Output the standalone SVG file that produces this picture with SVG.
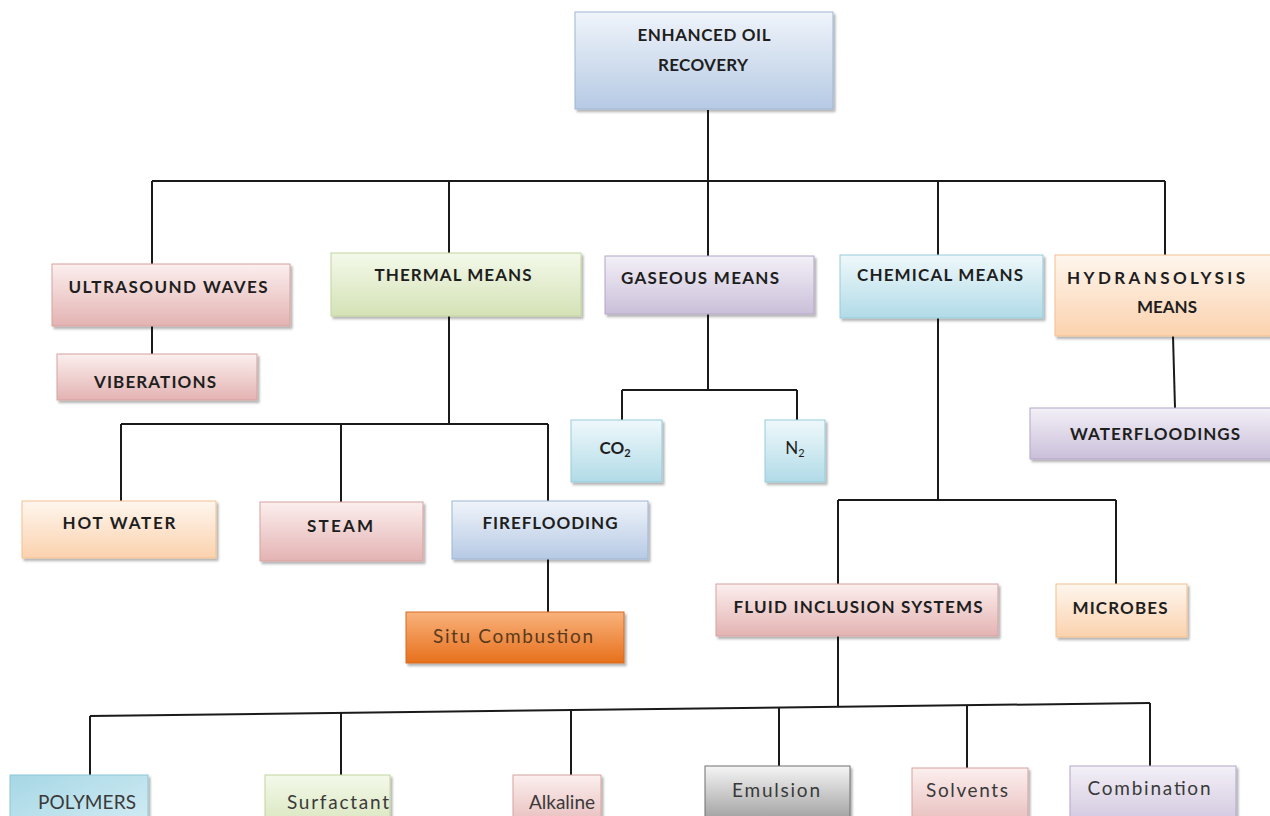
<svg xmlns="http://www.w3.org/2000/svg" width="1270" height="816" viewBox="0 0 1270 816">
<defs>
<linearGradient id="gBlue" x1="0" y1="0" x2="0" y2="1"><stop offset="0" stop-color="#f0f4fa"/><stop offset="1" stop-color="#b6cae4"/></linearGradient>
<linearGradient id="gPink" x1="0" y1="0" x2="0" y2="1"><stop offset="0" stop-color="#fbefee"/><stop offset="1" stop-color="#e3b3b2"/></linearGradient>
<linearGradient id="gGreen" x1="0" y1="0" x2="0" y2="1"><stop offset="0" stop-color="#f4f9ea"/><stop offset="1" stop-color="#d4e2b6"/></linearGradient>
<linearGradient id="gPurple" x1="0" y1="0" x2="0" y2="1"><stop offset="0" stop-color="#f3f0f7"/><stop offset="1" stop-color="#cabfd9"/></linearGradient>
<linearGradient id="gAqua" x1="0" y1="0" x2="0" y2="1"><stop offset="0" stop-color="#eff8fb"/><stop offset="1" stop-color="#b1dbe7"/></linearGradient>
<linearGradient id="gOrange" x1="0" y1="0" x2="0" y2="1"><stop offset="0" stop-color="#fef6ee"/><stop offset="1" stop-color="#fbd2ae"/></linearGradient>
<linearGradient id="gSitu" x1="0" y1="0" x2="0" y2="1"><stop offset="0" stop-color="#f9b27c"/><stop offset="1" stop-color="#e7701c"/></linearGradient>
<linearGradient id="gGrey" x1="0" y1="0" x2="0" y2="1"><stop offset="0" stop-color="#f5f5f5"/><stop offset="1" stop-color="#878787"/></linearGradient>
<linearGradient id="gPoly" x1="0" y1="0" x2="1" y2="1"><stop offset="0" stop-color="#a6d7e5"/><stop offset="1" stop-color="#d6eef5"/></linearGradient>
<filter id="sh" x="-5%" y="-10%" width="115%" height="130%"><feDropShadow dx="2" dy="2.5" stdDeviation="1.3" flood-color="#000" flood-opacity="0.3"/></filter>
</defs>
<style>
rect{filter:url(#sh);stroke-width:1}
.blue{fill:url(#gBlue);stroke:#9db5d6}
.pink{fill:url(#gPink);stroke:#d6a1a0}
.green{fill:url(#gGreen);stroke:#c2d49e}
.purple{fill:url(#gPurple);stroke:#b3a6c8}
.aqua{fill:url(#gAqua);stroke:#95cbd9}
.orange{fill:url(#gOrange);stroke:#f3c091}
.situ{fill:url(#gSitu);stroke:#d46a22}
.grey{fill:url(#gGrey);stroke:#6f6f6f}
.poly{fill:url(#gPoly);stroke:#8cc6d6}
text{font-family:Lato,"Liberation Sans",sans-serif;text-anchor:middle}
.c{font-size:17px;font-weight:700;fill:#1e1e1e}
.m{font-size:19px;font-weight:400;fill:#3a3a3a}
.s{fill:#5a3a1c}
#connectors{stroke:#1a1a1a;stroke-width:2;fill:none}
</style>
<rect width="1270" height="816" fill="#ffffff" style="filter:none"/>
<g id="connectors">
<line x1="708" y1="110" x2="708" y2="181"/>
<line x1="152" y1="181" x2="1165" y2="181"/>
<line x1="152" y1="181" x2="152" y2="264"/>
<line x1="449" y1="181" x2="449" y2="253"/>
<line x1="708" y1="181" x2="708" y2="256"/>
<line x1="938" y1="181" x2="938" y2="255"/>
<line x1="1165" y1="181" x2="1165" y2="255"/>
<line x1="152" y1="326" x2="152" y2="354"/>
<line x1="449" y1="316" x2="449" y2="424"/>
<line x1="121" y1="424" x2="548" y2="424"/>
<line x1="121" y1="424" x2="121" y2="501"/>
<line x1="341" y1="424" x2="341" y2="502"/>
<line x1="548" y1="424" x2="548" y2="501"/>
<line x1="548" y1="559" x2="548" y2="612"/>
<line x1="708" y1="314" x2="708" y2="390"/>
<line x1="622" y1="390" x2="797" y2="390"/>
<line x1="622" y1="390" x2="622" y2="420"/>
<line x1="797" y1="390" x2="797" y2="420"/>
<line x1="1173" y1="336" x2="1175" y2="408"/>
<line x1="938" y1="318" x2="938" y2="500"/>
<line x1="838" y1="500" x2="1116" y2="500"/>
<line x1="838" y1="500" x2="838" y2="584"/>
<line x1="1116" y1="500" x2="1116" y2="584"/>
<line x1="838" y1="636" x2="838" y2="707"/>
<line x1="90" y1="716" x2="1150" y2="703"/>
<line x1="90" y1="716" x2="90" y2="775"/>
<line x1="341" y1="713" x2="341" y2="775"/>
<line x1="571" y1="710" x2="571" y2="775"/>
<line x1="779" y1="707.5" x2="779" y2="766"/>
<line x1="967" y1="705" x2="967" y2="768"/>
<line x1="1150" y1="703" x2="1150" y2="766"/>
</g>
<g id="n-eor"><rect class="blue" x="575" y="12" width="258" height="97"/><text class="c" x="704" y="41" textLength="133" lengthAdjust="spacing">ENHANCED OIL</text><text class="c" x="703" y="71" textLength="90" lengthAdjust="spacing">RECOVERY</text></g>
<g id="n-ultrasound"><rect class="pink" x="52" y="264" width="238" height="62"/><text class="c" x="168" y="293" textLength="199" lengthAdjust="spacing">ULTRASOUND WAVES</text></g>
<g id="n-viberations"><rect class="pink" x="57" y="354" width="200" height="46"/><text class="c" x="155" y="388" textLength="122" lengthAdjust="spacing">VIBERATIONS</text></g>
<g id="n-thermal"><rect class="green" x="331" y="253" width="250" height="63"/><text class="c" x="453" y="281" textLength="157" lengthAdjust="spacing">THERMAL MEANS</text></g>
<g id="n-gaseous"><rect class="purple" x="605" y="256" width="209" height="58"/><text class="c" x="700" y="284" textLength="158" lengthAdjust="spacing">GASEOUS MEANS</text></g>
<g id="n-chemical"><rect class="aqua" x="840" y="255" width="203" height="63"/><text class="c" x="940" y="281" textLength="166" lengthAdjust="spacing">CHEMICAL MEANS</text></g>
<g id="n-hydransolysis"><rect class="orange" x="1055" y="255" width="220" height="81"/><text class="c" x="1156" y="284" textLength="178" lengthAdjust="spacing">HYDRANSOLYSIS</text><text class="c" x="1167" y="313" textLength="60" lengthAdjust="spacing">MEANS</text></g>
<g id="n-waterfloodings"><rect class="purple" x="1030" y="408" width="245" height="51"/><text class="c" x="1155" y="440" textLength="170" lengthAdjust="spacing">WATERFLOODINGS</text></g>
<g id="n-co2"><rect class="aqua" x="571" y="420" width="91" height="62"/><text class="c" x="615" y="454">CO<tspan font-size="11" dy="3">2</tspan></text></g>
<g id="n-n2"><rect class="aqua" x="765" y="420" width="60" height="62"/><text class="c" x="795" y="454" style="font-weight:400">N<tspan font-size="11" dy="3">2</tspan></text></g>
<g id="n-hotwater"><rect class="orange" x="22" y="501" width="194" height="57"/><text class="c" x="119" y="529" textLength="113" lengthAdjust="spacing">HOT WATER</text></g>
<g id="n-steam"><rect class="pink" x="260" y="502" width="163" height="59"/><text class="c" x="340" y="532" textLength="66" lengthAdjust="spacing">STEAM</text></g>
<g id="n-fireflooding"><rect class="blue" x="452" y="501" width="196" height="58"/><text class="c" x="550" y="529" textLength="135" lengthAdjust="spacing">FIREFLOODING</text></g>
<g id="n-situ"><rect class="situ" x="406" y="612" width="218" height="51"/><text class="m s" x="513" y="643" textLength="160" lengthAdjust="spacing">Situ Combustion</text></g>
<g id="n-fluid"><rect class="pink" x="716" y="584" width="282" height="52"/><text class="c" x="858" y="613" textLength="249" lengthAdjust="spacing">FLUID INCLUSION SYSTEMS</text></g>
<g id="n-microbes"><rect class="orange" x="1056" y="584" width="131" height="53"/><text class="c" x="1120" y="614" textLength="95" lengthAdjust="spacing">MICROBES</text></g>
<g id="n-polymers"><rect class="poly" x="10" y="775" width="138" height="60"/><text class="m" x="87" y="809" textLength="98" lengthAdjust="spacing">POLYMERS</text></g>
<g id="n-surfactant"><rect class="green" x="265" y="775" width="125" height="60"/><text class="m" x="338" y="809" textLength="102" lengthAdjust="spacing">Surfactant</text></g>
<g id="n-alkaline"><rect class="pink" x="513" y="775" width="88" height="60"/><text class="m" x="562" y="809">Alkaline</text></g>
<g id="n-emulsion"><rect class="grey" x="705" y="766" width="145" height="70"/><text class="m" x="776" y="797" textLength="88" lengthAdjust="spacing">Emulsion</text></g>
<g id="n-solvents"><rect class="pink" x="912" y="768" width="116" height="68"/><text class="m" x="967" y="797" textLength="82" lengthAdjust="spacing">Solvents</text></g>
<g id="n-combination"><rect class="purple" x="1070" y="766" width="166" height="70"/><text class="m" x="1149" y="795" textLength="123" lengthAdjust="spacing">Combination</text></g>
</svg>
